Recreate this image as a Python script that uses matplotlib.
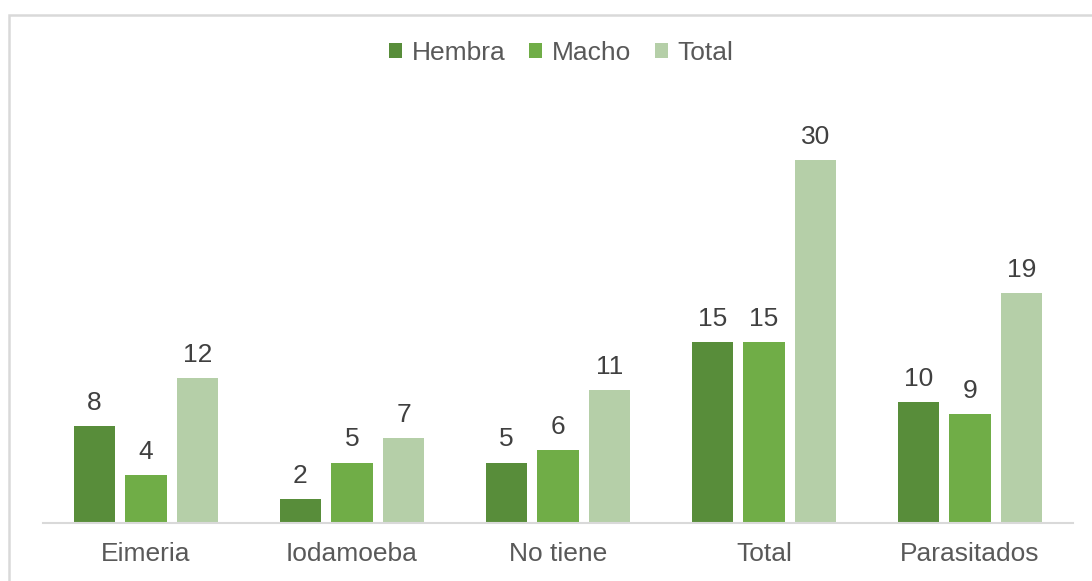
import matplotlib
matplotlib.use('Agg')
import matplotlib.pyplot as plt
import numpy as np
from matplotlib.patches import Rectangle

# data
categories = ["Eimeria", "Iodamoeba", "No tiene", "Total", "Parasitados"]
hembra = [8, 2, 5, 15, 10]
macho = [4, 5, 6, 15, 9]
total = [12, 7, 11, 30, 19]
series_names = ["Hembra", "Macho", "Total"]
colors = ["#588D3A", "#70AD47", "#B5CFA8"]

plt.rcParams['font.family'] = ['Liberation Sans', 'DejaVu Sans']

W, H = 1092, 581
fig = plt.figure(figsize=(W / 100, H / 100), dpi=100)
fig.patch.set_facecolor('white')

# chart frame (cut off at the right and bottom like the reference)
fig.add_artist(Rectangle((9 / W, -0.1), 1.2, (581 - 15) / H + 0.1,
                         transform=fig.transFigure, fill=False,
                         edgecolor='#D9D9D9', linewidth=1.8))

ax = fig.add_axes([43 / W, (H - 523) / H, (1073 - 43) / W, (523 - 99.5) / H])

x = np.arange(len(categories))
width = 0.2
offsets = [-0.25, 0, 0.25]
for vals, name, col, off in zip([hembra, macho, total], series_names, colors, offsets):
    bars = ax.bar(x + off, vals, width, color=col, label=name, zorder=2)
    for b, v in zip(bars, vals):
        ax.annotate(str(v), (b.get_x() + b.get_width() / 2, v),
                    xytext=(0, 16), textcoords='offset pixels',
                    ha='center', va='baseline', fontsize=19, color='#404040')

ax.set_xlim(-0.5, len(categories) - 0.5)
ax.set_ylim(0, 35)
ax.set_yticks([])
ax.set_xticks(x)
ax.set_xticklabels(categories, fontsize=19, color='#595959')
ax.tick_params(axis='x', length=0, pad=14)
for s in ['top', 'right', 'left']:
    ax.spines[s].set_visible(False)
ax.spines['bottom'].set_color('#D9D9D9')
ax.spines['bottom'].set_linewidth(1.5)

leg = fig.legend(loc='center', bbox_to_anchor=(561 / W, 1 - 53 / H), ncol=3,
                 frameon=False, fontsize=19, handlelength=0.5, handleheight=0.5,
                 handletextpad=0.35, columnspacing=0.9, borderaxespad=0)
for t in leg.get_texts():
    t.set_color('#595959')

fig.savefig('out.png', dpi=100, facecolor='white')
